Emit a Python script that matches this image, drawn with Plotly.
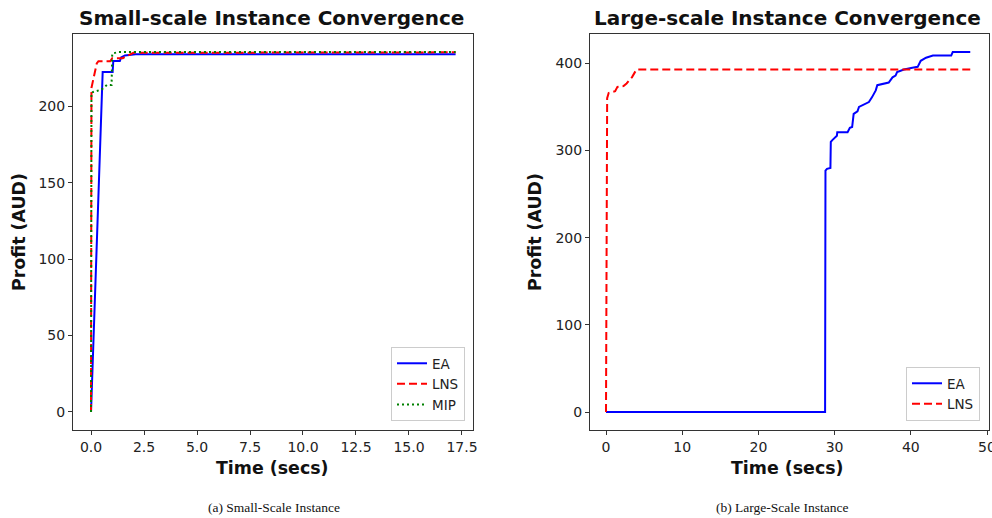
import plotly.graph_objects as go

# ---------------- data ----------------
# Small-scale instance
ea_small_t = [0, 0.55, 1.02, 1.05, 1.36, 1.42, 1.6, 2.1, 17.2]
ea_small_v = [0, 222.5, 222.5, 229.6, 229.6, 232, 233.3, 234, 234]

lns_small_t = [0, 0.02, 0.27, 0.35, 0.9, 1.0, 1.5, 1.7, 2.0, 17.2]
lns_small_v = [0, 212, 228, 229.5, 229.5, 231.5, 231.5, 233, 235, 235.3]

mip_small_t = [0, 0.02, 0.5, 0.75, 0.97, 1.0, 1.3, 17.2]
mip_small_v = [0, 209, 211, 214, 214, 234.5, 235.5, 235.5]

# Large-scale instance
ea_large_t = [0, 28.75, 28.8, 29.0, 29.45, 29.5, 29.7, 30.3, 30.35, 31.7, 32.0, 32.3,
              32.5, 33.0, 33.2, 34.5, 34.9, 35.4, 35.6, 36.7, 37.1, 37.6, 38.0, 38.2,
              39.1, 40.2, 40.9, 41.3, 42.0, 42.9, 45.3, 45.5, 47.8]
ea_large_v = [0, 0, 277, 279, 280, 310, 312, 317, 321, 321, 326, 327,
              342, 345, 350, 355.6, 361, 369, 375, 377, 378, 384, 386, 390,
              393, 395, 396, 403, 406.5, 409, 409, 413, 413]

lns_large_t = [0, 0.05, 0.15, 0.35, 1.2, 1.5, 2.3, 2.7, 3.4, 4.0, 47.8]
lns_large_v = [0, 340, 360, 366, 368, 373, 374, 377, 384, 393, 393]

small_xticks = [0, 2.5, 5, 7.5, 10, 12.5, 15, 17.5]
small_yticks = [0, 50, 100, 150, 200]
large_xticks = [0, 10, 20, 30, 40, 50]
large_yticks = [0, 100, 200, 300, 400]

# ---------------- figure ----------------
W, H = 992, 518
BLUE, RED, GREEN = "#0000ff", "#ff0000", "#008000"
FONT = "DejaVu Sans"

fig = go.Figure()

def px_x(p):
    return p / W

def px_y(p):
    return 1 - p / H

fig.add_trace(go.Scatter(x=ea_small_t, y=ea_small_v, mode="lines", name="EA",
                         line=dict(color=BLUE, width=2), xaxis="x", yaxis="y", legend="legend"))
fig.add_trace(go.Scatter(x=lns_small_t, y=lns_small_v, mode="lines", name="LNS",
                         line=dict(color=RED, width=2, dash="8px,4px"), xaxis="x", yaxis="y", legend="legend"))
fig.add_trace(go.Scatter(x=mip_small_t, y=mip_small_v, mode="lines", name="MIP",
                         line=dict(color=GREEN, width=2, dash="2px,3px"), xaxis="x", yaxis="y", legend="legend"))

fig.add_trace(go.Scatter(x=ea_large_t, y=ea_large_v, mode="lines", name="EA",
                         line=dict(color=BLUE, width=2), xaxis="x2", yaxis="y2", legend="legend2"))
fig.add_trace(go.Scatter(x=lns_large_t, y=lns_large_v, mode="lines", name="LNS",
                         line=dict(color=RED, width=2, dash="8px,4px"), xaxis="x2", yaxis="y2", legend="legend2"))

axis_common = dict(showline=True, linecolor="#333333", linewidth=1, mirror=True,
                   ticks="outside", ticklen=4, tickwidth=1, tickcolor="#333333",
                   showgrid=False, zeroline=False, automargin=False,
                   tickfont=dict(family=FONT, size=14, color="#222222"))

ydom = [px_y(430), px_y(34)]

fig.update_layout(
    width=W, height=H,
    margin=dict(l=0, r=0, t=0, b=0, autoexpand=False),
    paper_bgcolor="white", plot_bgcolor="white",
    xaxis=dict(domain=[px_x(73), px_x(473)], range=[-0.85, 18.02],
               tickvals=small_xticks, ticktext=[f"{v:.1f}" for v in small_xticks],
               anchor="y", **axis_common),
    yaxis=dict(domain=ydom, range=[-11.8, 247.3], tickvals=small_yticks,
               anchor="x", **axis_common),
    xaxis2=dict(domain=[px_x(590), px_x(989)], range=[-2.1, 50.26],
                tickvals=large_xticks, anchor="y2", ticklabeloverflow="allow",
                **axis_common),
    yaxis2=dict(domain=ydom, range=[-20.65, 433.7], tickvals=large_yticks,
                anchor="x2", **axis_common),
    legend=dict(x=px_x(465), y=px_y(421), xanchor="right", yanchor="bottom",
                bgcolor="white", bordercolor="#cccccc", borderwidth=1,
                font=dict(family=FONT, size=13.5, color="#222222"),
                itemwidth=30, tracegroupgap=0),
    legend2=dict(x=px_x(980), y=px_y(421), xanchor="right", yanchor="bottom",
                 bgcolor="white", bordercolor="#cccccc", borderwidth=1,
                 font=dict(family=FONT, size=13.5, color="#222222"),
                 itemwidth=30, tracegroupgap=0),
    showlegend=True,
)

ann = []
def add_text(text, x, y, size, bold=True, family=FONT, angle=0):
    ann.append(dict(text=f"<b>{text}</b>" if bold else text,
                    x=px_x(x), y=px_y(y), xref="paper", yref="paper",
                    xanchor="center", yanchor="middle", showarrow=False,
                    textangle=angle,
                    font=dict(family=family, size=size, color="#111111")))

add_text("Small-scale Instance Convergence", 271, 18, 20)
add_text("Large-scale Instance Convergence", 787, 18, 20)
add_text("Time (secs)", 272, 468, 17.4)
add_text("Time (secs)", 787, 468, 17.4)
add_text("Profit (AUD)", 19, 232, 17.4, angle=-90)
add_text("Profit (AUD)", 535, 232, 17.4, angle=-90)
add_text("(a) Small-Scale Instance", 274, 507, 13.5, bold=False, family="Liberation Serif")
add_text("(b) Large-Scale Instance", 782, 507, 13.5, bold=False, family="Liberation Serif")
fig.update_layout(annotations=ann)

fig.write_html("out.html", config={"displayModeBar": False},
               post_script="document.body.style.margin='0';document.body.style.overflow='hidden';")
